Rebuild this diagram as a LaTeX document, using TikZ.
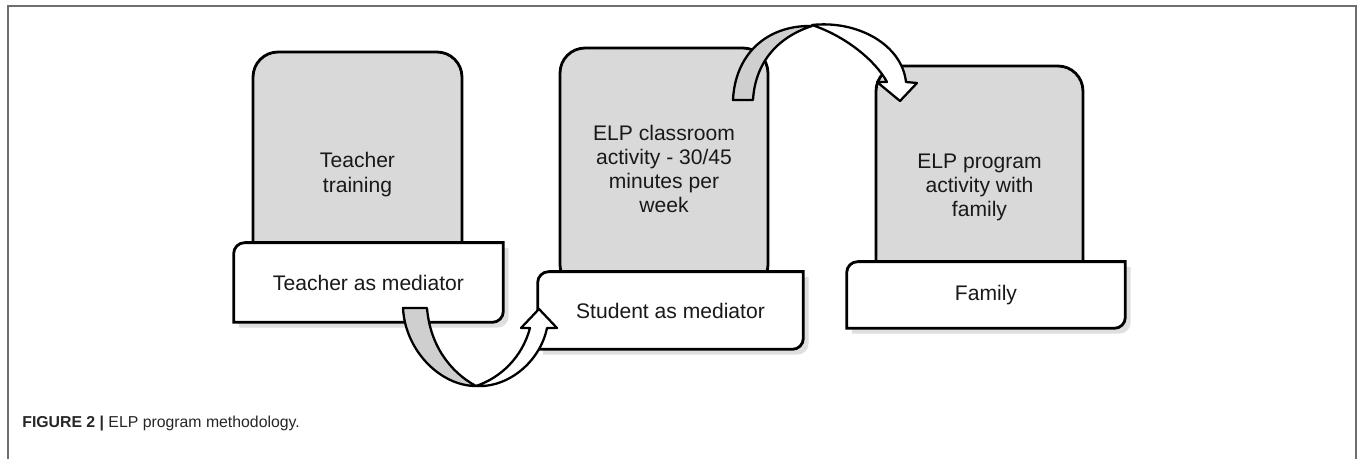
\documentclass[tikz,border=0pt]{standalone}
\usepackage{fontspec}
\setmainfont{Liberation Sans}
\usetikzlibrary{shadows}
\pgfdeclarelayer{graylayer}
\pgfdeclarelayer{whitelayer}
\pgfsetlayers{graylayer,whitelayer,main}
\definecolor{boxgray}{HTML}{D9D9D9}
\definecolor{ribbongray}{HTML}{CFCFCF}
\definecolor{framegray}{HTML}{6E6E6E}
\tikzset{
  graybox/.style={draw, fill=boxgray, line width=1.6pt, rounded corners=0.5cm,
    align=center, text=black!90, font=\fontsize{12}{13.8}\selectfont},
  whitebox/.style={align=center, inner sep=0pt, text=black!90,
    font=\fontsize{12}{13.8}\selectfont},
  wshape/.style={draw, fill=white, line width=1.6pt,
    drop shadow={shadow xshift=3pt, shadow yshift=-3pt, opacity=0.25}},
  ribbon/.style={draw, line width=1.3pt, line join=round},
}
\begin{document}
\begin{tikzpicture}[x=0.02cm, y=-0.02cm]
    \useasboundingbox (0,0) rectangle (1360,459);
    % frame
    \draw[framegray, line width=1.1pt] (8,459) -- (8,6) -- (1356,6) -- (1356,459);

    % upper grey boxes
    \begin{pgfonlayer}{graylayer}
        \node[graybox, minimum width=4.18cm, minimum height=4.9cm] (train) at (357.5,174.5) {Teacher\\training};
        \node[graybox, minimum width=4.16cm, minimum height=4.84cm] (class) at (664,169) {ELP classroom\\activity - 30/45\\minutes per\\week};
        \node[graybox, minimum width=4.14cm, minimum height=4.86cm] (home) at (979.5,187.5) {ELP program\\activity with\\family};
    \end{pgfonlayer}

    % lower white boxes
    \node[whitebox, minimum width=5.38cm, minimum height=1.58cm] (teacher) at (368.5,282.5) {Teacher as mediator};
    \node[whitebox, minimum width=5.3cm, minimum height=1.54cm] (student) at (670.5,310.5) {Student as mediator};
    \node[whitebox, minimum width=5.56cm, minimum height=1.32cm] (family) at (986,295) {Family};
    \begin{pgfonlayer}{whitelayer}
        \foreach \w in {teacher,student,family}
            \draw[wshape] ([xshift=0.22cm]\w.north west) -- (\w.north east)
                -- ([yshift=0.22cm]\w.south east) arc[start angle=0, end angle=-90, radius=0.22cm]
                -- (\w.south west) -- ([yshift=-0.22cm]\w.north west)
                arc[start angle=180, end angle=90, radius=0.22cm] -- cycle;
    \end{pgfonlayer}

    % lower u-turn arrow
    \draw[ribbon, fill=white] (476,386) .. controls (508,388) and (540,362) .. (547,328)
        -- (557,328) -- (539,309) -- (521,328) -- (530,328)
        .. controls (522,358) and (500,378) .. (476,386) -- cycle;
    \draw[ribbon, fill=ribbongray] (403,308) -- (427,308) .. controls (430,345) and (450,372) .. (476,386)
        .. controls (440,386) and (405,350) .. (403,308) -- cycle;

    % upper arrow
    \draw[ribbon, fill=white] (812,25) .. controls (858,20) and (902,45) .. (906,82)
        -- (917,83) -- (900,101) -- (877,82) -- (887,82)
        .. controls (875,60) and (845,36) .. (812,25) -- cycle;
    \draw[ribbon, fill=ribbongray] (733,100) -- (753,100) .. controls (755,65) and (775,38) .. (812,26)
        .. controls (766,25) and (735,55) .. (733,100) -- cycle;

    \node[anchor=base west, inner sep=0pt, text=black!85, font=\fontsize{9}{11}\selectfont] (caption) at (22,427)
        {\textbf{FIGURE 2 |} ELP program methodology.};
\end{tikzpicture}
\end{document}
